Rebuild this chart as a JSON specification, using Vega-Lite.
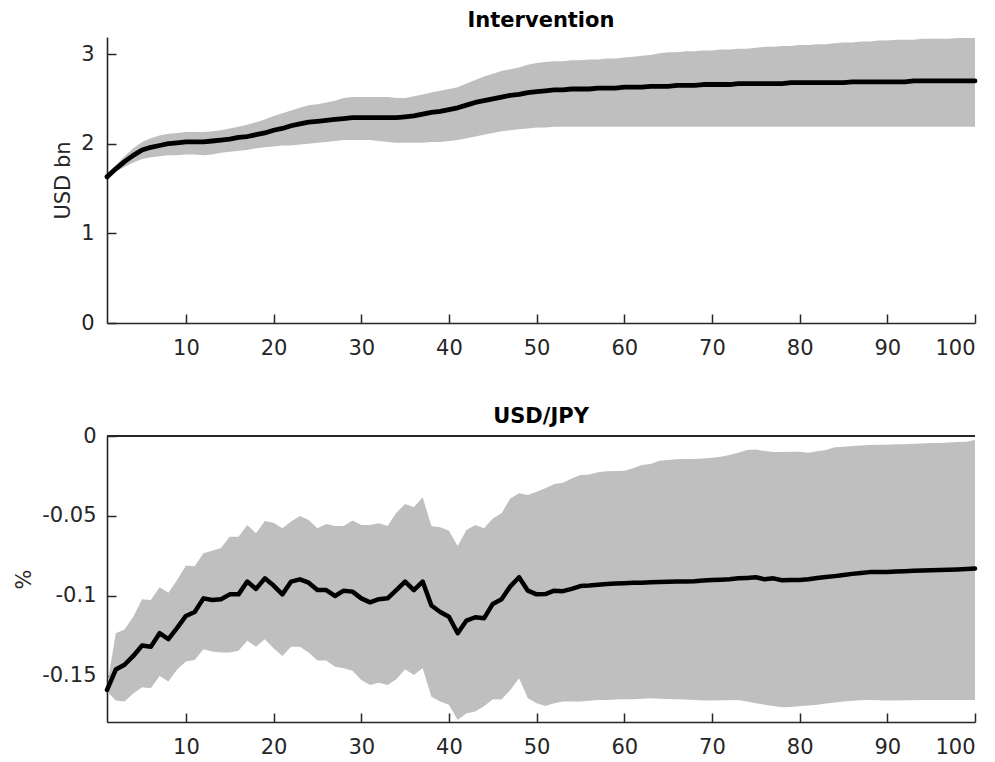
{
  "$schema": "https://vega.github.io/schema/vega-lite/v6.json",
  "background": "white",
  "padding": {"left": 13, "top": 10, "right": 2, "bottom": 3},
  "bounds": "flush",
  "spacing": 113,
  "config": {
    "font": "DejaVu Sans",
    "view": {"stroke": null},
    "axis": {
      "grid": false,
      "domainColor": "#262626",
      "domainWidth": 1.6,
      "tickColor": "#262626",
      "tickWidth": 1.5,
      "tickSize": -9,
      "labelColor": "#262626",
      "labelFont": "DejaVu Sans",
      "labelFontSize": 21,
      "labelPadding": 20,
      "titleFont": "DejaVu Sans",
      "titleFontSize": 21,
      "titleFontWeight": "normal",
      "titleColor": "#262626",
      "titlePadding": 7
    },
    "axisX": {"labelPadding": 23},
    "title": {"font": "DejaVu Sans", "fontSize": 21, "fontWeight": "bold", "color": "#000000"}
  },
  "datasets": {
    "top": [
      {"t":1,"m":1.63,"lo":1.63,"hi":1.63},{"t":2,"m":1.72,"lo":1.69,"hi":1.76},{"t":3,"m":1.80,"lo":1.74,"hi":1.86},{"t":4,"m":1.87,"lo":1.79,"hi":1.95},{"t":5,"m":1.93,"lo":1.83,"hi":2.02},
      {"t":6,"m":1.96,"lo":1.85,"hi":2.06},{"t":7,"m":1.98,"lo":1.86,"hi":2.09},{"t":8,"m":2.00,"lo":1.87,"hi":2.11},{"t":9,"m":2.01,"lo":1.87,"hi":2.12},{"t":10,"m":2.02,"lo":1.88,"hi":2.13},
      {"t":11,"m":2.02,"lo":1.88,"hi":2.13},{"t":12,"m":2.02,"lo":1.87,"hi":2.13},{"t":13,"m":2.03,"lo":1.88,"hi":2.14},{"t":14,"m":2.04,"lo":1.90,"hi":2.15},{"t":15,"m":2.05,"lo":1.91,"hi":2.17},
      {"t":16,"m":2.07,"lo":1.92,"hi":2.19},{"t":17,"m":2.08,"lo":1.93,"hi":2.21},{"t":18,"m":2.10,"lo":1.95,"hi":2.24},{"t":19,"m":2.12,"lo":1.96,"hi":2.27},{"t":20,"m":2.15,"lo":1.97,"hi":2.31},
      {"t":21,"m":2.17,"lo":1.98,"hi":2.34},{"t":22,"m":2.20,"lo":1.98,"hi":2.37},{"t":23,"m":2.22,"lo":1.99,"hi":2.40},{"t":24,"m":2.24,"lo":2.00,"hi":2.43},{"t":25,"m":2.25,"lo":2.01,"hi":2.44},
      {"t":26,"m":2.26,"lo":2.02,"hi":2.46},{"t":27,"m":2.27,"lo":2.03,"hi":2.48},{"t":28,"m":2.28,"lo":2.04,"hi":2.51},{"t":29,"m":2.29,"lo":2.04,"hi":2.52},{"t":30,"m":2.29,"lo":2.04,"hi":2.52},
      {"t":31,"m":2.29,"lo":2.04,"hi":2.52},{"t":32,"m":2.29,"lo":2.03,"hi":2.52},{"t":33,"m":2.29,"lo":2.02,"hi":2.52},{"t":34,"m":2.29,"lo":2.01,"hi":2.51},{"t":35,"m":2.30,"lo":2.01,"hi":2.51},
      {"t":36,"m":2.31,"lo":2.01,"hi":2.53},{"t":37,"m":2.33,"lo":2.01,"hi":2.55},{"t":38,"m":2.35,"lo":2.02,"hi":2.57},{"t":39,"m":2.36,"lo":2.02,"hi":2.59},{"t":40,"m":2.38,"lo":2.03,"hi":2.61},
      {"t":41,"m":2.40,"lo":2.04,"hi":2.63},{"t":42,"m":2.43,"lo":2.06,"hi":2.67},{"t":43,"m":2.46,"lo":2.08,"hi":2.71},{"t":44,"m":2.48,"lo":2.10,"hi":2.75},{"t":45,"m":2.50,"lo":2.12,"hi":2.78},
      {"t":46,"m":2.52,"lo":2.14,"hi":2.81},{"t":47,"m":2.54,"lo":2.15,"hi":2.83},{"t":48,"m":2.55,"lo":2.16,"hi":2.85},{"t":49,"m":2.57,"lo":2.17,"hi":2.88},{"t":50,"m":2.58,"lo":2.18,"hi":2.90},
      {"t":51,"m":2.59,"lo":2.18,"hi":2.91},{"t":52,"m":2.60,"lo":2.19,"hi":2.92},{"t":53,"m":2.60,"lo":2.19,"hi":2.92},{"t":54,"m":2.61,"lo":2.19,"hi":2.93},{"t":55,"m":2.61,"lo":2.19,"hi":2.93},
      {"t":56,"m":2.61,"lo":2.19,"hi":2.94},{"t":57,"m":2.62,"lo":2.19,"hi":2.94},{"t":58,"m":2.62,"lo":2.19,"hi":2.95},{"t":59,"m":2.62,"lo":2.19,"hi":2.95},{"t":60,"m":2.63,"lo":2.19,"hi":2.96},
      {"t":61,"m":2.63,"lo":2.19,"hi":2.97},{"t":62,"m":2.63,"lo":2.19,"hi":2.98},{"t":63,"m":2.64,"lo":2.19,"hi":2.99},{"t":64,"m":2.64,"lo":2.19,"hi":3.01},{"t":65,"m":2.64,"lo":2.19,"hi":3.02},
      {"t":66,"m":2.65,"lo":2.19,"hi":3.02},{"t":67,"m":2.65,"lo":2.19,"hi":3.03},{"t":68,"m":2.65,"lo":2.19,"hi":3.03},{"t":69,"m":2.66,"lo":2.19,"hi":3.04},{"t":70,"m":2.66,"lo":2.19,"hi":3.04},
      {"t":71,"m":2.66,"lo":2.19,"hi":3.05},{"t":72,"m":2.66,"lo":2.19,"hi":3.05},{"t":73,"m":2.67,"lo":2.19,"hi":3.06},{"t":74,"m":2.67,"lo":2.19,"hi":3.06},{"t":75,"m":2.67,"lo":2.19,"hi":3.07},
      {"t":76,"m":2.67,"lo":2.19,"hi":3.08},{"t":77,"m":2.67,"lo":2.19,"hi":3.08},{"t":78,"m":2.67,"lo":2.19,"hi":3.09},{"t":79,"m":2.68,"lo":2.19,"hi":3.09},{"t":80,"m":2.68,"lo":2.19,"hi":3.10},
      {"t":81,"m":2.68,"lo":2.19,"hi":3.10},{"t":82,"m":2.68,"lo":2.19,"hi":3.11},{"t":83,"m":2.68,"lo":2.19,"hi":3.11},{"t":84,"m":2.68,"lo":2.19,"hi":3.12},{"t":85,"m":2.68,"lo":2.19,"hi":3.13},
      {"t":86,"m":2.69,"lo":2.19,"hi":3.13},{"t":87,"m":2.69,"lo":2.19,"hi":3.14},{"t":88,"m":2.69,"lo":2.19,"hi":3.14},{"t":89,"m":2.69,"lo":2.19,"hi":3.15},{"t":90,"m":2.69,"lo":2.19,"hi":3.15},
      {"t":91,"m":2.69,"lo":2.19,"hi":3.16},{"t":92,"m":2.69,"lo":2.19,"hi":3.16},{"t":93,"m":2.70,"lo":2.19,"hi":3.16},{"t":94,"m":2.70,"lo":2.19,"hi":3.17},{"t":95,"m":2.70,"lo":2.19,"hi":3.17},
      {"t":96,"m":2.70,"lo":2.19,"hi":3.17},{"t":97,"m":2.70,"lo":2.19,"hi":3.17},{"t":98,"m":2.70,"lo":2.19,"hi":3.18},{"t":99,"m":2.70,"lo":2.19,"hi":3.18},{"t":100,"m":2.70,"lo":2.19,"hi":3.18}
    ],
    "bot": [
      {"t":1,"m":-0.1588,"lo":-0.1598,"hi":-0.1567},{"t":2,"m":-0.146,"lo":-0.1654,"hi":-0.1233},{"t":3,"m":-0.143,"lo":-0.166,"hi":-0.121},{"t":4,"m":-0.1375,"lo":-0.161,"hi":-0.113},{"t":5,"m":-0.131,"lo":-0.157,"hi":-0.102},
      {"t":6,"m":-0.1317,"lo":-0.1577,"hi":-0.1025},{"t":7,"m":-0.1233,"lo":-0.150,"hi":-0.0946},{"t":8,"m":-0.127,"lo":-0.1535,"hi":-0.098},{"t":9,"m":-0.120,"lo":-0.146,"hi":-0.090},{"t":10,"m":-0.1125,"lo":-0.141,"hi":-0.081},
      {"t":11,"m":-0.110,"lo":-0.140,"hi":-0.0815},{"t":12,"m":-0.1015,"lo":-0.1333,"hi":-0.0733},{"t":13,"m":-0.1025,"lo":-0.1348,"hi":-0.0717},{"t":14,"m":-0.102,"lo":-0.1354,"hi":-0.070},{"t":15,"m":-0.099,"lo":-0.1354,"hi":-0.063},
      {"t":16,"m":-0.099,"lo":-0.1342,"hi":-0.063},{"t":17,"m":-0.091,"lo":-0.128,"hi":-0.0556},{"t":18,"m":-0.0956,"lo":-0.1317,"hi":-0.0608},{"t":19,"m":-0.089,"lo":-0.127,"hi":-0.0531},{"t":20,"m":-0.0935,"lo":-0.1327,"hi":-0.0542},
      {"t":21,"m":-0.099,"lo":-0.1375,"hi":-0.0577},{"t":22,"m":-0.091,"lo":-0.1317,"hi":-0.0535},{"t":23,"m":-0.0896,"lo":-0.1317,"hi":-0.050},{"t":24,"m":-0.0917,"lo":-0.1354,"hi":-0.0525},{"t":25,"m":-0.0963,"lo":-0.1404,"hi":-0.0577},
      {"t":26,"m":-0.0963,"lo":-0.1404,"hi":-0.055},{"t":27,"m":-0.100,"lo":-0.1442,"hi":-0.0563},{"t":28,"m":-0.0967,"lo":-0.1452,"hi":-0.0563},{"t":29,"m":-0.0973,"lo":-0.1467,"hi":-0.0529},{"t":30,"m":-0.1015,"lo":-0.1525,"hi":-0.0556},
      {"t":31,"m":-0.104,"lo":-0.1556,"hi":-0.0556},{"t":32,"m":-0.102,"lo":-0.1542,"hi":-0.0546},{"t":33,"m":-0.1015,"lo":-0.1556,"hi":-0.0563},{"t":34,"m":-0.0963,"lo":-0.152,"hi":-0.048},{"t":35,"m":-0.091,"lo":-0.1458,"hi":-0.0425},
      {"t":36,"m":-0.0963,"lo":-0.1494,"hi":-0.0446},{"t":37,"m":-0.091,"lo":-0.1452,"hi":-0.0383},{"t":38,"m":-0.106,"lo":-0.163,"hi":-0.0563},{"t":39,"m":-0.110,"lo":-0.166,"hi":-0.057},{"t":40,"m":-0.113,"lo":-0.168,"hi":-0.0592},
      {"t":41,"m":-0.1233,"lo":-0.1775,"hi":-0.0688},{"t":42,"m":-0.1154,"lo":-0.1733,"hi":-0.0588},{"t":43,"m":-0.1133,"lo":-0.1723,"hi":-0.0556},{"t":44,"m":-0.114,"lo":-0.169,"hi":-0.0577},{"t":45,"m":-0.105,"lo":-0.1646,"hi":-0.0515},
      {"t":46,"m":-0.102,"lo":-0.1648,"hi":-0.0483},{"t":47,"m":-0.094,"lo":-0.1588,"hi":-0.039},{"t":48,"m":-0.0883,"lo":-0.1515,"hi":-0.0358},{"t":49,"m":-0.0967,"lo":-0.164,"hi":-0.0369},{"t":50,"m":-0.099,"lo":-0.167,"hi":-0.0348},
      {"t":51,"m":-0.0988,"lo":-0.1688,"hi":-0.0327},{"t":52,"m":-0.0967,"lo":-0.167,"hi":-0.030},{"t":53,"m":-0.097,"lo":-0.166,"hi":-0.0292},{"t":54,"m":-0.0956,"lo":-0.166,"hi":-0.0265},{"t":55,"m":-0.0938,"lo":-0.166,"hi":-0.0244},
      {"t":56,"m":-0.0935,"lo":-0.1655,"hi":-0.024},{"t":57,"m":-0.093,"lo":-0.165,"hi":-0.0227},{"t":58,"m":-0.0925,"lo":-0.165,"hi":-0.022},{"t":59,"m":-0.0922,"lo":-0.1648,"hi":-0.0219},{"t":60,"m":-0.092,"lo":-0.1646,"hi":-0.0217},
      {"t":61,"m":-0.0918,"lo":-0.1645,"hi":-0.0202},{"t":62,"m":-0.0917,"lo":-0.1642,"hi":-0.0181},{"t":63,"m":-0.0915,"lo":-0.164,"hi":-0.0175},{"t":64,"m":-0.0913,"lo":-0.1642,"hi":-0.0154},{"t":65,"m":-0.0911,"lo":-0.1644,"hi":-0.015},
      {"t":66,"m":-0.091,"lo":-0.1646,"hi":-0.0146},{"t":67,"m":-0.091,"lo":-0.1648,"hi":-0.0144},{"t":68,"m":-0.0908,"lo":-0.165,"hi":-0.0144},{"t":69,"m":-0.0904,"lo":-0.1654,"hi":-0.014},{"t":70,"m":-0.090,"lo":-0.1654,"hi":-0.0136},
      {"t":71,"m":-0.0898,"lo":-0.1652,"hi":-0.013},{"t":72,"m":-0.0895,"lo":-0.1652,"hi":-0.0119},{"t":73,"m":-0.089,"lo":-0.165,"hi":-0.0104},{"t":74,"m":-0.0887,"lo":-0.166,"hi":-0.0088},{"t":75,"m":-0.0883,"lo":-0.167,"hi":-0.0085},
      {"t":76,"m":-0.0896,"lo":-0.168,"hi":-0.0094},{"t":77,"m":-0.089,"lo":-0.1688,"hi":-0.010},{"t":78,"m":-0.0902,"lo":-0.1696,"hi":-0.010},{"t":79,"m":-0.090,"lo":-0.1694,"hi":-0.0098},{"t":80,"m":-0.090,"lo":-0.169,"hi":-0.0098},
      {"t":81,"m":-0.0896,"lo":-0.1685,"hi":-0.0104},{"t":82,"m":-0.0888,"lo":-0.168,"hi":-0.0096},{"t":83,"m":-0.0882,"lo":-0.1673,"hi":-0.0088},{"t":84,"m":-0.0876,"lo":-0.1666,"hi":-0.0071},{"t":85,"m":-0.0869,"lo":-0.166,"hi":-0.0067},
      {"t":86,"m":-0.0862,"lo":-0.1655,"hi":-0.0063},{"t":87,"m":-0.0856,"lo":-0.1652,"hi":-0.006},{"t":88,"m":-0.0851,"lo":-0.165,"hi":-0.0056},{"t":89,"m":-0.085,"lo":-0.1652,"hi":-0.0054},{"t":90,"m":-0.085,"lo":-0.1654,"hi":-0.0054},
      {"t":91,"m":-0.0847,"lo":-0.1653,"hi":-0.0052},{"t":92,"m":-0.0845,"lo":-0.1652,"hi":-0.0052},{"t":93,"m":-0.0842,"lo":-0.1652,"hi":-0.0048},{"t":94,"m":-0.0841,"lo":-0.1651,"hi":-0.0047},{"t":95,"m":-0.0839,"lo":-0.1651,"hi":-0.0044},
      {"t":96,"m":-0.0838,"lo":-0.165,"hi":-0.0043},{"t":97,"m":-0.0836,"lo":-0.165,"hi":-0.004},{"t":98,"m":-0.0834,"lo":-0.165,"hi":-0.0038},{"t":99,"m":-0.0831,"lo":-0.165,"hi":-0.0036},{"t":100,"m":-0.0829,"lo":-0.165,"hi":-0.0025}
    ]
  },
  "vconcat": [
    {
      "width": 868,
      "height": 286,
      "title": {"text": "Intervention", "frame": "group", "baseline": "alphabetic", "offset": -11},
      "data": {"name": "top"},
      "layer": [
        {
          "mark": {"type": "area", "color": "#BFBFBF", "opacity": 1},
          "encoding": {
            "x": {"field": "t", "type": "quantitative", "scale": {"domain": [1, 100], "nice": false, "zero": false},
                  "axis": {"title": null, "values": [10, 20, 30, 40, 50, 60, 70, 80, 90, 100]}},
            "y": {"field": "hi", "type": "quantitative", "scale": {"domain": [0, 3.19], "nice": false},
                  "axis": {"title": "USD bn", "values": [0, 1, 2, 3], "format": "d", "labelPadding": 22}},
            "y2": {"field": "lo"}
          }
        },
        {
          "mark": {"type": "line", "color": "#000000", "strokeWidth": 4.8, "strokeCap": "round", "strokeJoin": "round"},
          "encoding": {
            "x": {"field": "t", "type": "quantitative"},
            "y": {"field": "m", "type": "quantitative"}
          }
        }
      ]
    },
    {
      "width": 868,
      "height": 286,
      "title": {"text": "USD/JPY", "frame": "group", "baseline": "alphabetic", "offset": -19},
      "data": {"name": "bot"},
      "layer": [
        {
          "mark": {"type": "area", "color": "#BFBFBF", "opacity": 1},
          "encoding": {
            "x": {"field": "t", "type": "quantitative", "scale": {"domain": [1, 100], "nice": false, "zero": false},
                  "axis": {"title": null, "values": [10, 20, 30, 40, 50, 60, 70, 80, 90, 100]}},
            "y": {"field": "hi", "type": "quantitative", "scale": {"domain": [-0.1788, 0], "nice": false, "zero": false},
                  "axis": {"title": "%", "values": [0, -0.05, -0.1, -0.15], "labelPadding": 20,
                           "labelExpr": "datum.value == 0 ? '0' : '-' + format(-datum.value, '~g')"}},
            "y2": {"field": "lo"}
          }
        },
        {
          "mark": {"type": "rule", "color": "#262626", "strokeWidth": 1.2},
          "encoding": {"y": {"datum": 0}}
        },
        {
          "mark": {"type": "line", "color": "#000000", "strokeWidth": 4.5, "strokeCap": "round", "strokeJoin": "round"},
          "encoding": {
            "x": {"field": "t", "type": "quantitative"},
            "y": {"field": "m", "type": "quantitative"}
          }
        }
      ]
    }
  ]
}
